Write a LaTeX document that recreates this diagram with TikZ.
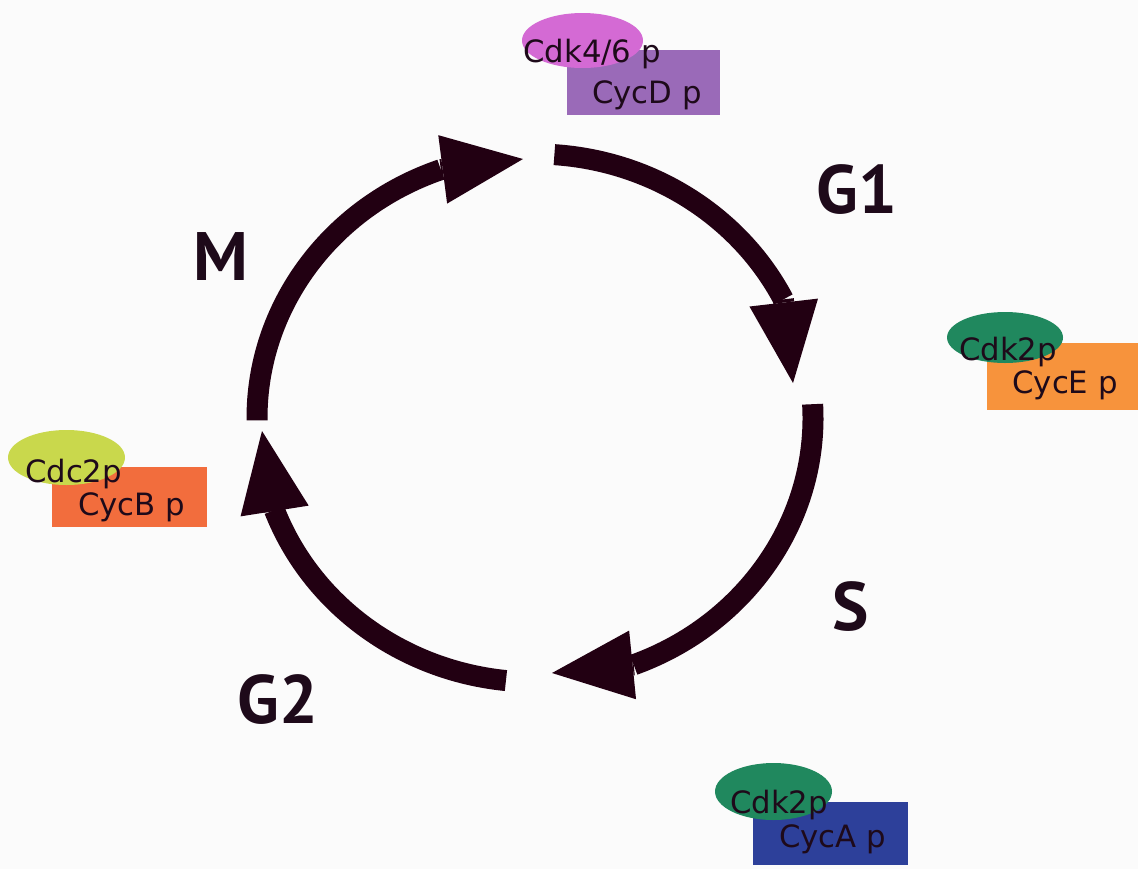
\documentclass[tikz,border=0pt]{standalone}
\usepackage{fontspec}
\setmainfont{DejaVu Sans}
\newfontfamily\phasefont{PT Sans}
\usetikzlibrary{arrows.meta,shapes.geometric}
\definecolor{ink}{HTML}{1E0A1A}
\definecolor{arcink}{HTML}{220012}
\definecolor{cdkfour}{HTML}{D46AD4}
\definecolor{cycd}{HTML}{9A6AB8}
\definecolor{cdktwo}{HTML}{20885E}
\definecolor{cyce}{HTML}{F7933C}
\definecolor{cdctwo}{HTML}{C9D84C}
\definecolor{cycb}{HTML}{F26D3D}
\definecolor{cyca}{HTML}{2D409A}
\tikzset{
  cycline/.style={draw=arcink, line width=0.42cm, line cap=butt},
  cyctip/.style={draw=arcink, line width=0.42cm, line cap=butt,
    -{Triangle[length=1.62cm,width=1.38cm,line width=0pt]}},
  phase/.style={font=\phasefont\bfseries\fontsize{39}{41}\selectfont, text=ink, inner sep=0pt},
  cycbox/.style={rectangle, inner sep=0pt},
  cdkblob/.style={ellipse, inner sep=0pt},
  boxtext/.style={font=\fontsize{17.5}{19}\selectfont, text=ink, inner sep=0pt, anchor=base}
}
\begin{document}
\begin{tikzpicture}[x=0.02cm,y=-0.02cm]
\fill[white!98.5!black] (0,0) rectangle (1138,869);
\useasboundingbox (0,0) rectangle (1138,869);
\coordinate (C) at (535,418);
% arc start points
\path (C) ++(-86:278 and 264) coordinate (g1s);
\path (C) ++(-3:278 and 264) coordinate (ss);
\path (C) ++(96:278 and 264) coordinate (g2s);
\path (C) ++(179.5:278 and 264) coordinate (ms);
% arrow tips
\coordinate (g1tip) at (793,383);
\coordinate (stip) at (552,673);
\coordinate (g2tip) at (262,431);
\coordinate (mtip) at (523,159);
% cycle arcs
\draw[cycline] (g1s) arc[start angle=-86, end angle=-26.7, x radius=278, y radius=264] coordinate (g1b);
\draw[cyctip] (g1b) -- (g1tip);
\draw[cycline] (ss) arc[start angle=-3, end angle=69.2, x radius=278, y radius=264] coordinate (sb);
\draw[cyctip] (sb) -- (stip);
\draw[cycline] (g2s) arc[start angle=96, end angle=159.6, x radius=278, y radius=264] coordinate (g2b);
\draw[cyctip] (g2b) -- (g2tip);
\draw[cycline] (ms) arc[start angle=179.5, end angle=250.2, x radius=278, y radius=264] coordinate (mb);
\draw[cyctip] (mb) -- (mtip);
% phase labels
\node[phase] (G1) at (857,190) {G1};
\node[phase] (S) at (851,607) {S};
\node[phase] (G2) at (278,700) {G2};
\node[phase] (M) at (221,257) {M};
% CycD / Cdk4/6
\node[cycbox, fill=cycd, minimum width=3.06cm, minimum height=1.30cm] (cycDbox) at (643.5,82.5) {};
\node[cdkblob, fill=cdkfour, minimum width=2.42cm, minimum height=1.10cm] (cdkfourblob) at (582.5,40.5) {};
\node[boxtext] (cdkfourtxt) at (592,62) {Cdk4/6 p};
\node[boxtext] (cycDtxt) at (647,103) {CycD p};
% CycE / Cdk2
\node[cycbox, fill=cyce, minimum width=3.02cm, minimum height=1.34cm] (cycEbox) at (1062.5,376.5) {};
\node[cdkblob, fill=cdktwo, minimum width=2.32cm, minimum height=1.02cm] (cdkEblob) at (1005,337.5) {};
\node[boxtext] (cdkEtxt) at (1008,360) {Cdk2p};
\node[boxtext] (cycEtxt) at (1065,393) {CycE p};
% CycB / Cdc2
\node[cycbox, fill=cycb, minimum width=3.10cm, minimum height=1.20cm] (cycBbox) at (129.5,497) {};
\node[cdkblob, fill=cdctwo, minimum width=2.34cm, minimum height=1.10cm] (cdcblob) at (66.5,457.5) {};
\node[boxtext] (cdctxt) at (73.5,482) {Cdc2p};
\node[boxtext] (cycBtxt) at (131.5,515) {CycB p};
% CycA / Cdk2
\node[cycbox, fill=cyca, minimum width=3.10cm, minimum height=1.26cm] (cycAbox) at (830.5,833.5) {};
\node[cdkblob, fill=cdktwo, minimum width=2.34cm, minimum height=1.14cm] (cdkAblob) at (773.5,791.5) {};
\node[boxtext] (cdkAtxt) at (779,813) {Cdk2p};
\node[boxtext] (cycAtxt) at (832.5,847) {CycA p};
\end{tikzpicture}
\end{document}
